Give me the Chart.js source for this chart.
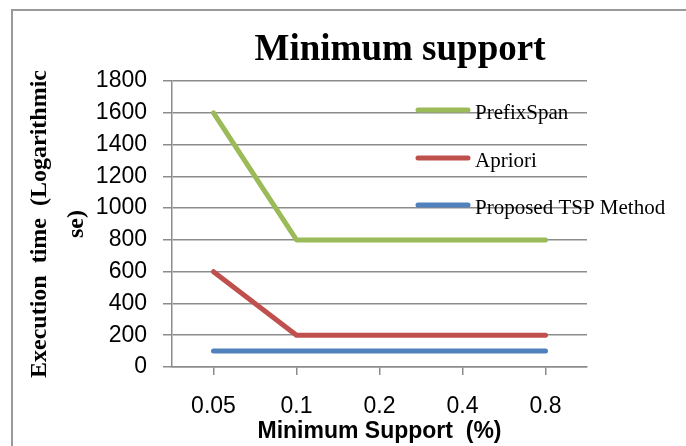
<!DOCTYPE html>
<html>
<head>
<meta charset="utf-8">
<script src="https://cdn.jsdelivr.net/npm/chart.js@4"></script>
<style>
  body { margin: 0; background: #fff; }
  #wrap { position: relative; width: 686px; height: 446px; overflow: hidden; }
  #frame { position: absolute; left: 11px; top: 9px; width: 700px; height: 500px; border: 2px solid #9a9a9a; }
  #chart { position: absolute; left: 0; top: 0; }
</style>
</head>
<body>
<div id="wrap">
  <div id="frame"></div>
  <canvas id="chart" width="686" height="446"></canvas>
</div>
<script>
const categories = ['0.05', '0.1', '0.2', '0.4', '0.8'];
const prefixSpan = [1600, 800, 800, 800, 800];
const apriori = [600, 200, 200, 200, 200];
const proposedTsp = [100, 100, 100, 100, 100];
const yMin = 0;
const yMax = 1800;
const yStep = 200;

const chartTitle = 'Minimum support';
const xTitle = 'Minimum Support  (%)';
const yTitle = ['Execution  time  (Logarithmic', 'se)'];

const gridColor = '#8c8c8c';

// title drawn by hand so it can sit a bit right of centre like the original
const titlePlugin = {
    id: 'titleAt',
    afterDraw(chart) {
        const ctx = chart.ctx;
        ctx.save();
        ctx.font = 'bold 37px "Liberation Serif"';
        ctx.fillStyle = '#000';
        ctx.textAlign = 'center';
        ctx.textBaseline = 'alphabetic';
        ctx.fillText(chartTitle, 400, 60);
        ctx.restore();
    }
};

// legend sits inside the plot area on the right
const legendPlugin = {
    id: 'insideLegend',
    afterDraw(chart) {
        const ctx = chart.ctx;
        const rows = [110, 158, 205];
        ctx.save();
        chart.data.datasets.forEach((ds, i) => {
            const y = rows[i];
            ctx.strokeStyle = ds.borderColor;
            ctx.lineWidth = 5;
            ctx.lineCap = 'round';
            ctx.beginPath();
            ctx.moveTo(418, y);
            ctx.lineTo(468, y);
            ctx.stroke();
            ctx.fillStyle = '#000';
            ctx.font = '21px "Liberation Serif"';
            ctx.textAlign = 'left';
            ctx.textBaseline = 'alphabetic';
            ctx.fillText(ds.label, 475, y + 9);
        });
        ctx.restore();
    }
};

new Chart(document.getElementById('chart').getContext('2d'), {
    type: 'line',
    data: {
        labels: categories,
        datasets: [{
            label: 'PrefixSpan',
            data: prefixSpan,
            borderColor: '#9bbb59',
            backgroundColor: '#9bbb59'
        }, {
            label: 'Apriori',
            data: apriori,
            borderColor: '#c0504d',
            backgroundColor: '#c0504d'
        }, {
            label: 'Proposed TSP Method',
            data: proposedTsp,
            borderColor: '#4f81bd',
            backgroundColor: '#4f81bd'
        }]
    },
    options: {
        responsive: false,
        animation: false,
        layout: { padding: { top: 81, right: 99, left: 0, bottom: 0 } },
        elements: {
            line: { borderWidth: 5, borderCapStyle: 'round', borderJoinStyle: 'round', tension: 0 },
            point: { radius: 0 }
        },
        plugins: {
            legend: { display: false },
            title: { display: false },
            tooltip: { enabled: false }
        },
        scales: {
            x: {
                offset: true,
                grid: { drawOnChartArea: false, drawTicks: true, tickLength: 8, color: gridColor, lineWidth: 1.5 },
                border: { color: gridColor, width: 1.5 },
                ticks: { color: '#000', padding: 18, font: { family: 'Liberation Sans', size: 23 } },
                title: {
                    display: true,
                    text: xTitle,
                    color: '#000',
                    padding: { top: 0, bottom: 1 },
                    font: { family: 'Liberation Sans', size: 23, weight: 'bold' }
                },
                afterFit: s => { s.height = 79; }
            },
            y: {
                min: yMin,
                max: yMax,
                grid: { color: gridColor, lineWidth: 1.5, tickLength: 9 },
                border: { color: gridColor, width: 1.5 },
                ticks: {
                    stepSize: yStep,
                    color: '#000',
                    padding: 16,
                    font: { family: 'Liberation Sans', size: 23 },
                    callback: v => String(v)
                },
                title: {
                    display: true,
                    text: yTitle,
                    color: '#000',
                    padding: { top: 21, bottom: 0 },
                    font: { family: 'Liberation Serif', size: 24, weight: 'bold', lineHeight: 1.54 }
                },
                afterFit: s => { s.width = 172; }
            }
        }
    },
    plugins: [titlePlugin, legendPlugin]
});
</script>
</body>
</html>
